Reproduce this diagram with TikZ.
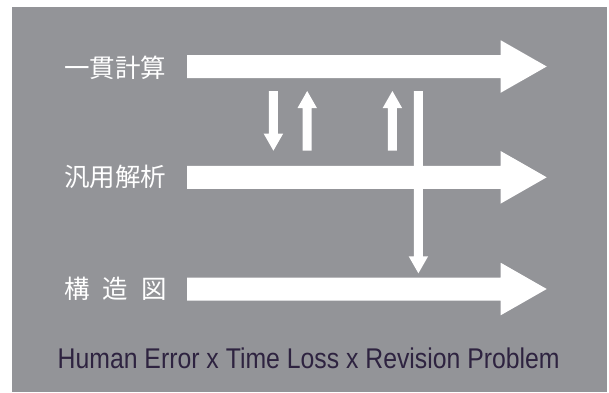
\documentclass[tikz,border=0pt]{standalone}
\usepackage{fontspec}
\setmainfont{Liberation Sans}
\newfontfamily\jpfont{Noto Sans CJK JP}
\definecolor{bggray}{HTML}{939498}
\definecolor{captxt}{HTML}{2E2340}
\tikzset{
  lab/.style={text=white,font=\jpfont\fontsize{25.5}{26}\selectfont,inner sep=0pt,anchor=west},
  pics/hbig/.style={code={
    \fill[white] (0,-11.5) -- (313.7,-11.5) -- (313.7,-26.25) -- (359.7,0)
      -- (313.7,26.25) -- (313.7,11.5) -- (0,11.5) -- cycle;}},
  pics/vdown/.style={code={
    \fill[white] (-4.5,0) -- (4.5,0) -- (4.5,#1-17) -- (9.7,#1-17) -- (0,#1)
      -- (-9.7,#1-17) -- (-4.5,#1-17) -- cycle;}},
  pics/vup/.style={code={
    \fill[white] (0,0) -- (9.7,17) -- (4.5,17) -- (4.5,#1) -- (-4.5,#1)
      -- (-4.5,17) -- (-9.7,17) -- cycle;}},
}
\begin{document}
\begin{tikzpicture}[x=1pt,y=-1pt]
\useasboundingbox (0,0) rectangle (609,392);
\fill[bggray] (12,7) rectangle (607,392);
% labels
\node[lab] (l1) at (64,67.5) {一貫計算};
\node[lab] (l2) at (64,177) {汎用解析};
\node[lab] (l3) at (64,288.5) {構\hspace{13pt}造\hspace{13pt}図};
% horizontal arrows
\coordinate (h1) at (187,66.5);
\coordinate (h2) at (187,177.3);
\coordinate (h3) at (187,289);
\pic at (h1) {hbig};
\pic at (h2) {hbig};
\pic at (h3) {hbig};
% vertical arrows
\coordinate (d1) at (273.4,91);
\coordinate (u1) at (307.2,91);
\coordinate (u2) at (392.4,91);
\coordinate (d2) at (418.4,91);
\pic at (d1) {vdown=59.7};
\pic at (u1) {vup=59.7};
\pic at (u2) {vup=59.7};
\pic at (d2) {vdown=182.3};
% caption
\node[anchor=base west,inner sep=0pt,text=captxt] (cap) at (57.5,368)
  {\resizebox{502pt}{\height}{\fontsize{28.5}{28.5}\selectfont Human Error x Time Loss x Revision Problem}};
\end{tikzpicture}
\end{document}
